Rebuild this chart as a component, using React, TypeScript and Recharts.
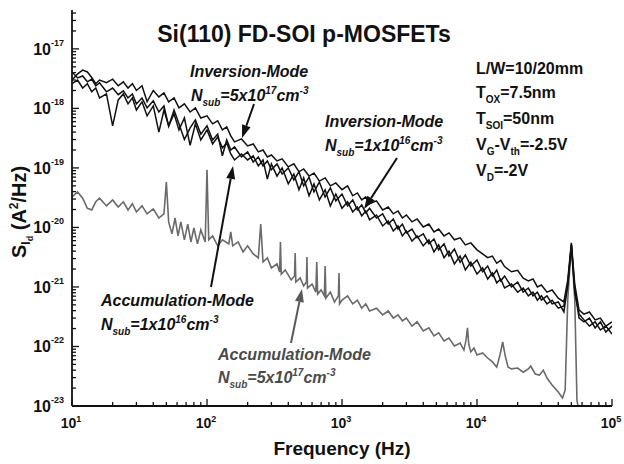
import { LineChart, Line, XAxis, YAxis } from "recharts";

const FONT = '"Liberation Sans", Arial, Helvetica, sans-serif';
const INK = "#111";
const GREY = "#6a6a6a";

// Frequency grid (Hz) shared by the three black spectra
const blackFreq = [
  10, 11, 12, 13, 14, 15, 16, 18, 20, 22, 24, 26, 28, 30, 33, 36, 40, 44, 48, 52, 57, 62, 68, 75, 82, 90,
  100, 110, 120, 130, 140, 150, 160, 180, 200, 220, 240, 260, 280, 300, 330, 360, 400, 440, 480, 520, 570, 620, 680, 750, 820, 900,
  1000, 1100, 1200, 1300, 1400, 1500, 1600, 1800, 2000, 2200, 2400, 2600, 2800, 3000, 3300, 3600, 4000, 4400, 4800, 5200, 5700, 6200, 6800, 7500, 8200, 9000,
  10000, 11000, 12000, 13000, 14000, 15000, 16000, 18000, 20000, 22000, 24000, 26000, 28000, 30000, 33000, 36000, 40000, 44000, 47000, 50000, 53000, 57000, 62000, 68000, 75000, 82000, 90000, 100000,
];

// Inversion-Mode, Nsub = 5x10^17 cm^-3  (A^2/Hz)
const invHigh = [
  3.0e-18, 3.8e-18, 4.4e-18, 4.1e-18, 3.3e-18, 2.6e-18, 3.0e-18, 2.7e-18, 3.1e-18, 2.4e-18, 2.8e-18, 2.2e-18, 2.6e-18, 2.0e-18, 2.4e-18, 1.3e-18, 2.0e-18, 1.56e-18, 1.82e-18, 1.29e-18, 1.5e-18, 1.02e-18, 1.19e-18, 8.7e-19, 1.02e-18, 6.9e-19,
  7.5e-19, 5.5e-19, 6.2e-19, 4.35e-19, 4.9e-19, 3.45e-19, 2.74e-19, 3.07e-19, 2.34e-19, 2.53e-19, 1.86e-19, 2.0e-19, 1.53e-19, 1.65e-19, 1.31e-19, 1.42e-19, 1.04e-19, 1.17e-19, 8.6e-20, 9.6e-20, 7.3e-20, 8.2e-20, 6.0e-20, 6.8e-20, 5.0e-20, 5.6e-20,
  4.3e-20, 5.0e-20, 3.4e-20, 3.8e-20, 2.9e-20, 3.25e-20, 2.5e-20, 2.8e-20, 1.97e-20, 2.2e-20, 1.69e-20, 1.89e-20, 1.44e-20, 1.62e-20, 1.24e-20, 1.39e-20, 1.02e-20, 1.14e-20, 8.4e-21, 9.4e-21, 7.2e-21, 8.1e-21, 6.2e-21, 6.7e-21, 5.1e-21, 5.5e-21,
  4.2e-21, 3.6e-21, 3.1e-21, 3.3e-21, 2.5e-21, 2.8e-21, 2.2e-21, 1.8e-21, 1.9e-21, 1.4e-21, 1.26e-21, 1.36e-21, 1.0e-21, 1.08e-21, 8.2e-22, 8.9e-22, 6.5e-22, 5.6e-22, 1.3e-21, 5.5e-21, 1.1e-21, 4.1e-22, 3.5e-22, 3.8e-22, 2.8e-22, 3.0e-22, 2.2e-22, 2.6e-22,
];

// Inversion-Mode, Nsub = 1x10^16 cm^-3
const invLow = [
  4.1e-18, 3.25e-18, 3.5e-18, 2.8e-18, 3.1e-18, 2.4e-18, 2.7e-18, 1.9e-18, 2.2e-18, 1.7e-18, 1.97e-18, 1.5e-18, 1.75e-18, 1.19e-18, 1.5e-18, 1.02e-18, 1.34e-18, 8.7e-19, 1.1e-18, 5.0e-19, 9.4e-19, 5.5e-19, 3.0e-19, 4.7e-19, 6.4e-19, 3.7e-19,
  5.1e-19, 2.95e-19, 3.7e-19, 1.6e-19, 2.95e-19, 2.0e-19, 2.25e-19, 1.53e-19, 1.86e-19, 1.26e-19, 1.53e-19, 1.08e-19, 1.31e-19, 9.3e-20, 1.17e-19, 7.9e-20, 1.0e-19, 6.3e-20, 8.6e-20, 5.0e-20, 7.0e-20, 3.95e-20, 5.8e-20, 3.25e-20, 4.6e-20, 2.8e-20,
  3.65e-20, 2.3e-20, 2.9e-20, 1.97e-20, 2.4e-20, 1.75e-20, 2.1e-20, 1.44e-20, 1.69e-20, 1.14e-20, 1.39e-20, 9.4e-21, 1.14e-20, 8.1e-21, 9.4e-21, 6.7e-21, 7.8e-21, 5.3e-21, 6.4e-21, 4.2e-21, 5.3e-21, 3.3e-21, 4.35e-21, 2.6e-21, 3.45e-21, 2.25e-21,
  2.84e-21, 1.8e-21, 2.25e-21, 1.53e-21, 1.93e-21, 1.26e-21, 1.53e-21, 1.0e-21, 1.21e-21, 8.2e-22, 9.6e-22, 7.1e-22, 8.2e-22, 6.0e-22, 7.1e-22, 5.2e-22, 5.6e-22, 3.8e-22, 1.04e-21, 4.9e-21, 8.9e-22, 3.0e-22, 2.6e-22, 3.0e-22, 2.05e-22, 2.6e-22, 1.75e-22, 2.2e-22,
];

// Accumulation-Mode, Nsub = 1x10^16 cm^-3
const accLow = [
  2.6e-18, 3.0e-18, 2.2e-18, 2.6e-18, 1.9e-18, 2.2e-18, 1.5e-18, 1.75e-18, 5.1e-19, 1.39e-18, 1.75e-18, 1.19e-18, 1.5e-18, 9.4e-19, 1.29e-18, 7.5e-19, 1.1e-18, 4.0e-19, 9.4e-19, 5.1e-19, 8.1e-19, 4.35e-19, 6.9e-19, 2.4e-19, 5.5e-19, 2.95e-19,
  4.35e-19, 2.53e-19, 3.3e-19, 2.17e-19, 2.63e-19, 1.72e-19, 1.36e-19, 1.72e-19, 1.36e-19, 1.59e-19, 1.08e-19, 1.36e-19, 6.5e-20, 1.17e-19, 7.3e-20, 1.0e-19, 5.4e-20, 7.9e-20, 4.3e-20, 6.8e-20, 3.4e-20, 5.4e-20, 2.9e-20, 4.3e-20, 2.3e-20, 3.65e-20,
  2.1e-20, 2.7e-20, 1.82e-20, 2.2e-20, 1.56e-20, 1.89e-20, 1.34e-20, 1.62e-20, 1.06e-20, 1.29e-20, 8.7e-21, 1.06e-20, 7.2e-21, 8.7e-21, 5.9e-21, 7.2e-21, 4.9e-21, 6.2e-21, 3.87e-21, 5.1e-21, 3.1e-21, 4.0e-21, 2.44e-21, 3.3e-21, 1.93e-21, 2.6e-21,
  1.65e-21, 2.09e-21, 1.36e-21, 1.72e-21, 1.17e-21, 1.36e-21, 9.6e-22, 1.12e-21, 8.2e-22, 9.6e-22, 7.1e-22, 8.2e-22, 6.0e-22, 7.1e-22, 5.2e-22, 6.0e-22, 4.4e-22, 4.8e-22, 1.12e-21, 5.1e-21, 8.2e-22, 3.5e-22, 2.8e-22, 2.2e-22, 2.6e-22, 1.89e-22, 2.2e-22, 1.62e-22,
];

// Accumulation-Mode, Nsub = 5x10^17 cm^-3 — own grid so the 50 Hz harmonics stay narrow
const accHighFreq = [
  10, 11, 12, 13, 14, 15, 16, 18, 20, 22,
  24, 26, 28, 30, 33, 36, 40, 44, 48, 50,
  52, 55, 58, 61, 64, 68, 72, 76, 80, 85,
  90, 97, 100, 103, 110, 120, 130, 145, 150, 155,
  170, 185, 200, 220, 240, 250, 260, 280, 300, 330,
  345, 350, 355, 380, 420, 445, 450, 455, 490, 520,
  545, 550, 555, 600, 640, 650, 660, 700, 740, 750,
  760, 820, 880, 940, 950, 960, 1000, 1100, 1200, 1300,
  1400, 1500, 1600, 1800, 2000, 2200, 2400, 2600, 2800, 3000,
  3300, 3600, 4000, 4400, 4800, 5200, 5700, 6200, 6800, 7500,
  8000, 8300, 8500, 8700, 9000, 9500, 10000, 11000, 12000, 13000,
  14000, 14800, 15500, 16200, 17000, 18000, 20000, 22000, 24000, 25000,
  27000, 29000, 31000, 33000, 36000, 40000, 43000, 45000, 47000, 50000,
  53000, 55000, 57000, 62000, 68000, 75000, 82000, 90000, 100000,
];
const accHigh = [
  3.25e-20, 3.95e-20, 3.1e-20, 2.1e-20, 1.97e-20, 2.7e-20, 3.1e-20, 2.3e-20, 2.9e-20, 2.2e-20,
  2.7e-20, 1.97e-20, 2.5e-20, 1.82e-20, 2.3e-20, 1.69e-20, 2.05e-20, 1.44e-20, 1.69e-20, 5.8e-20,
  1.24e-20, 7.8e-21, 1.44e-20, 7.2e-21, 1.24e-20, 6.2e-21, 1.14e-20, 5.7e-21, 9.8e-21, 5.3e-21,
  9.1e-21, 5.7e-21, 9.3e-20, 6.2e-21, 7.2e-21, 4.9e-21, 6.2e-21, 5.3e-21, 8.4e-21, 4.9e-21,
  5.7e-21, 3.87e-21, 4.9e-21, 3.6e-21, 3.07e-21, 1.14e-20, 2.63e-21, 3.07e-21, 2.09e-21, 2.44e-21,
  1.79e-21, 5.7e-21, 1.65e-21, 1.93e-21, 1.31e-21, 1.53e-21, 3.73e-21, 1.21e-21, 1.42e-21, 1.04e-21,
  1.21e-21, 3.19e-21, 9.6e-22, 1.12e-21, 8.2e-22, 2.63e-21, 7.6e-22, 8.9e-22, 7.1e-22, 2.25e-21,
  6.5e-22, 8.2e-22, 5.6e-22, 7.1e-22, 1.72e-21, 5.2e-22, 6.0e-22, 7.1e-22, 5.2e-22, 6.0e-22,
  4.4e-22, 5.2e-22, 3.95e-22, 4.4e-22, 3.4e-22, 3.95e-22, 3.0e-22, 3.4e-22, 2.7e-22, 3.0e-22,
  2.2e-22, 2.6e-22, 1.82e-22, 2.05e-22, 1.5e-22, 1.69e-22, 1.24e-22, 1.39e-22, 1.02e-22, 1.14e-22,
  8.7e-23, 1.29e-22, 2.05e-22, 1.07e-22, 8.1e-23, 9.4e-23, 7.2e-23, 7.8e-23, 6.4e-23, 5.5e-23,
  4.5e-23, 7.2e-23, 1.19e-22, 6.9e-23, 4.5e-23, 4.2e-23, 4.35e-23, 3.7e-23, 4.2e-23, 4.7e-23,
  3.45e-23, 3.3e-23, 4.0e-23, 2.95e-23, 2.25e-23, 1.72e-23, 1.36e-23, 1.86e-23, 6.0e-22, 5.3e-21,
  6.0e-22, 1.26e-23, 7.9e-24, 9.0e-24, 7.6e-24, 9.2e-24, 8.2e-24, 9.6e-24, 8.6e-24,
];

// axis decades and their exponent labels
const xMajor = [10, 100, 1000, 10000, 100000];
const xExp = ["1", "2", "3", "4", "5"];
const yMajor = [1e-23, 1e-22, 1e-21, 1e-20, 1e-19, 1e-18, 1e-17];
const yExp = ["-23", "-22", "-21", "-20", "-19", "-18", "-17"];
const minorSteps = [2, 3, 4, 5, 6, 7, 8, 9];

const X_DOMAIN: [number, number] = [10, 100000];
const Y_DOMAIN: [number, number] = [1e-23, 4.5e-17];

const xTicks = [
  ...xMajor,
  ...xMajor.slice(0, 4).flatMap((d) => minorSteps.map((m) => m * d)),
];
const yTicks = [
  ...yMajor,
  ...yMajor.flatMap((d) => minorSteps.map((m) => m * d)).filter((v) => v < Y_DOMAIN[1]),
];

const blackData = blackFreq.map((f, i) => ({
  f,
  invHigh: invHigh[i],
  invLow: invLow[i],
  accLow: accLow[i],
}));
const greyData = accHighFreq.map((f, i) => ({ f, accHigh: accHigh[i] }));

const isDecade = (v: number) => {
  const l = Math.log10(v);
  return Math.abs(l - Math.round(l)) < 1e-6;
};

const MAJOR_LEN = 7;
const MINOR_LEN = 4;

// inward ticks, drawn by hand since recharts only draws outward ones
const BottomTick = ({ x, y, payload }: any) => {
  const v = payload.value;
  const major = isDecade(v);
  const idx = xMajor.findIndex((t) => Math.abs(t - v) < 1e-6 * t);
  return (
    <g>
      <line x1={x} y1={y} x2={x} y2={y - (major ? MAJOR_LEN : MINOR_LEN)} stroke={INK} strokeWidth={1.3} />
      {idx >= 0 && (
        <text x={x - 1} y={y + 22} textAnchor="middle" fontFamily={FONT} fontWeight="bold" fontSize={14} fill={INK}>
          10
          <tspan fontSize={9} dy={-6}>
            {xExp[idx]}
          </tspan>
        </text>
      )}
    </g>
  );
};

const LeftTick = ({ x, y, payload }: any) => {
  const v = payload.value;
  const major = isDecade(v);
  const idx = major ? yMajor.findIndex((t) => Math.abs(Math.log10(t) - Math.log10(v)) < 1e-6) : -1;
  return (
    <g>
      <line x1={x} y1={y} x2={x + (major ? MAJOR_LEN : MINOR_LEN)} y2={y} stroke={INK} strokeWidth={1.3} />
      {idx >= 0 && (
        <text x={x - 8} y={y + 6} textAnchor="end" fontFamily={FONT} fontWeight="bold" fontSize={16} fill={INK}>
          10
          <tspan fontSize={9} dy={-9}>
            {yExp[idx]}
          </tspan>
        </text>
      )}
    </g>
  );
};

const TopTick = ({ x, y, payload }: any) => (
  <line x1={x} y1={y} x2={x} y2={y + (isDecade(payload.value) ? MAJOR_LEN : MINOR_LEN)} stroke={INK} strokeWidth={1.3} />
);

const RightTick = ({ x, y, payload }: any) => (
  <line x1={x} y1={y} x2={x - (isDecade(payload.value) ? MAJOR_LEN : MINOR_LEN)} y2={y} stroke={INK} strokeWidth={1.3} />
);

function Arrow({ x1, y1, x2, y2, color }: { x1: number; y1: number; x2: number; y2: number; color: string }) {
  const dx = x2 - x1;
  const dy = y2 - y1;
  const len = Math.hypot(dx, dy);
  const ux = dx / len;
  const uy = dy / len;
  const bx = x2 - ux * 13;
  const by = y2 - uy * 13;
  const px = -uy * 4.5;
  const py = ux * 4.5;
  return (
    <g>
      <line x1={x1} y1={y1} x2={bx} y2={by} stroke={color} strokeWidth={2} />
      <polygon points={`${x2},${y2} ${bx + px},${by + py} ${bx - px},${by - py}`} fill={color} />
    </g>
  );
}

// "N_sub=Ax10^B cm^-3" label
function Nsub({ x, y, mant, exp, color }: { x: number; y: number; mant: string; exp: string; color: string }) {
  return (
    <text x={x} y={y} fontFamily={FONT} fontWeight="bold" fontStyle="italic" fontSize={16} fill={color}>
      N
      <tspan fontSize={10} dy={5}>sub</tspan>
      <tspan dy={-5}>={mant}x10</tspan>
      <tspan fontSize={10} dy={-7}>{exp}</tspan>
      <tspan dy={7}>cm</tspan>
      <tspan fontSize={10} dy={-7}>-3</tspan>
    </text>
  );
}

const plain = { fontFamily: FONT, fontWeight: "bold" as const, fontSize: 16, fill: INK };
const italic = { ...plain, fontStyle: "italic" as const };

export default function App() {
  return (
    <div style={{ position: "fixed", left: 0, top: 0, width: 624, height: 464, background: "#fff" }}>
      <LineChart width={624} height={464} margin={{ top: 10, right: 12, bottom: 0, left: 0 }}>
        <XAxis
          xAxisId="x"
          type="number"
          dataKey="f"
          scale="log"
          domain={X_DOMAIN}
          allowDataOverflow
          ticks={xTicks}
          interval={0}
          height={58}
          tickSize={0}
          tickMargin={0}
          tickLine={false}
          axisLine={{ stroke: INK, strokeWidth: 1.8 }}
          tick={(p: any) => <BottomTick {...p} />}
        />
        <XAxis
          xAxisId="top"
          orientation="top"
          type="number"
          dataKey="f"
          scale="log"
          domain={X_DOMAIN}
          allowDataOverflow
          ticks={xTicks}
          interval={0}
          height={0}
          tickSize={0}
          tickMargin={0}
          tickLine={false}
          axisLine={{ stroke: INK, strokeWidth: 1.8 }}
          tick={(p: any) => <TopTick {...p} />}
        />
        <YAxis
          yAxisId="y"
          type="number"
          scale="log"
          domain={Y_DOMAIN}
          allowDataOverflow
          ticks={yTicks}
          interval={0}
          width={72}
          tickSize={0}
          tickMargin={0}
          tickLine={false}
          axisLine={{ stroke: INK, strokeWidth: 1.8 }}
          tick={(p: any) => <LeftTick {...p} />}
        />
        <YAxis
          yAxisId="right"
          orientation="right"
          type="number"
          scale="log"
          domain={Y_DOMAIN}
          allowDataOverflow
          ticks={yTicks}
          interval={0}
          width={0}
          tickSize={0}
          tickMargin={0}
          tickLine={false}
          axisLine={{ stroke: INK, strokeWidth: 1.8 }}
          tick={(p: any) => <RightTick {...p} />}
        />
        <Line
          xAxisId="x"
          yAxisId="y"
          data={greyData}
          dataKey="accHigh"
          type="linear"
          stroke={GREY}
          strokeWidth={1.6}
          dot={false}
          activeDot={false}
          isAnimationActive={false}
        />
        {(["accLow", "invLow", "invHigh"] as const).map((k) => (
          <Line
            key={k}
            xAxisId="x"
            yAxisId="y"
            data={blackData}
            dataKey={k}
            type="linear"
            stroke={INK}
            strokeWidth={1.5}
            dot={false}
            activeDot={false}
            isAnimationActive={false}
          />
        ))}
      </LineChart>

      <svg width={624} height={464} style={{ position: "absolute", left: 0, top: 0, pointerEvents: "none" }}>
        <text x={304} y={42} textAnchor="middle" fontFamily={FONT} fontWeight="bold" fontSize={23} fill={INK}>
          Si(110) FD-SOI p-MOSFETs
        </text>

        <text x={190} y={77} {...italic}>Inversion-Mode</text>
        <Nsub x={191} y={101} mant="5" exp="17" color={INK} />
        <Arrow x1={254} y1={104} x2={242} y2={138} color={INK} />

        <text x={325} y={127} {...italic}>Inversion-Mode</text>
        <Nsub x={325} y={151} mant="1" exp="16" color={INK} />
        <Arrow x1={397} y1={158} x2={364} y2={209} color={INK} />

        <text x={101} y={306} {...italic}>Accumulation-Mode</text>
        <Nsub x={101} y={330} mant="1" exp="16" color={INK} />
        <Arrow x1={211} y1={287} x2={233} y2={166} color={INK} />

        <text x={218} y={360} {...italic} fill="#4a4a4a">Accumulation-Mode</text>
        <Nsub x={218} y={383} mant="5" exp="17" color="#4a4a4a" />
        <Arrow x1={291} y1={343} x2={302} y2={289} color="#5a5a5a" />

        <text x={476} y={74} {...plain}>L/W=10/20mm</text>
        <text x={476} y={98} {...plain}>
          T<tspan fontSize={10} dy={5}>OX</tspan>
          <tspan dy={-5}>=7.5nm</tspan>
        </text>
        <text x={476} y={124} {...plain}>
          T<tspan fontSize={10} dy={5}>SOI</tspan>
          <tspan dy={-5}>=50nm</tspan>
        </text>
        <text x={476} y={150} {...plain}>
          V<tspan fontSize={10} dy={5}>G</tspan>
          <tspan dy={-5}>-V</tspan>
          <tspan fontSize={10} dy={5}>th</tspan>
          <tspan dy={-5}>=-2.5V</tspan>
        </text>
        <text x={476} y={176} {...plain}>
          V<tspan fontSize={10} dy={5}>D</tspan>
          <tspan dy={-5}>=-2V</tspan>
        </text>

        <text x={342} y={455} textAnchor="middle" fontFamily={FONT} fontWeight="bold" fontSize={19} fill={INK}>
          Frequency (Hz)
        </text>
        <text transform="translate(26,258) rotate(-90)" fontFamily={FONT} fontWeight="bold" fontSize={20} fill={INK}>
          S
          <tspan fontSize={12} dy={4}>I</tspan>
          <tspan fontSize={9} dy={3}>d</tspan>
          <tspan dy={-7}> (A</tspan>
          <tspan fontSize={12} dy={-8}>2</tspan>
          <tspan dy={8}>/Hz)</tspan>
        </text>
      </svg>
    </div>
  );
}
